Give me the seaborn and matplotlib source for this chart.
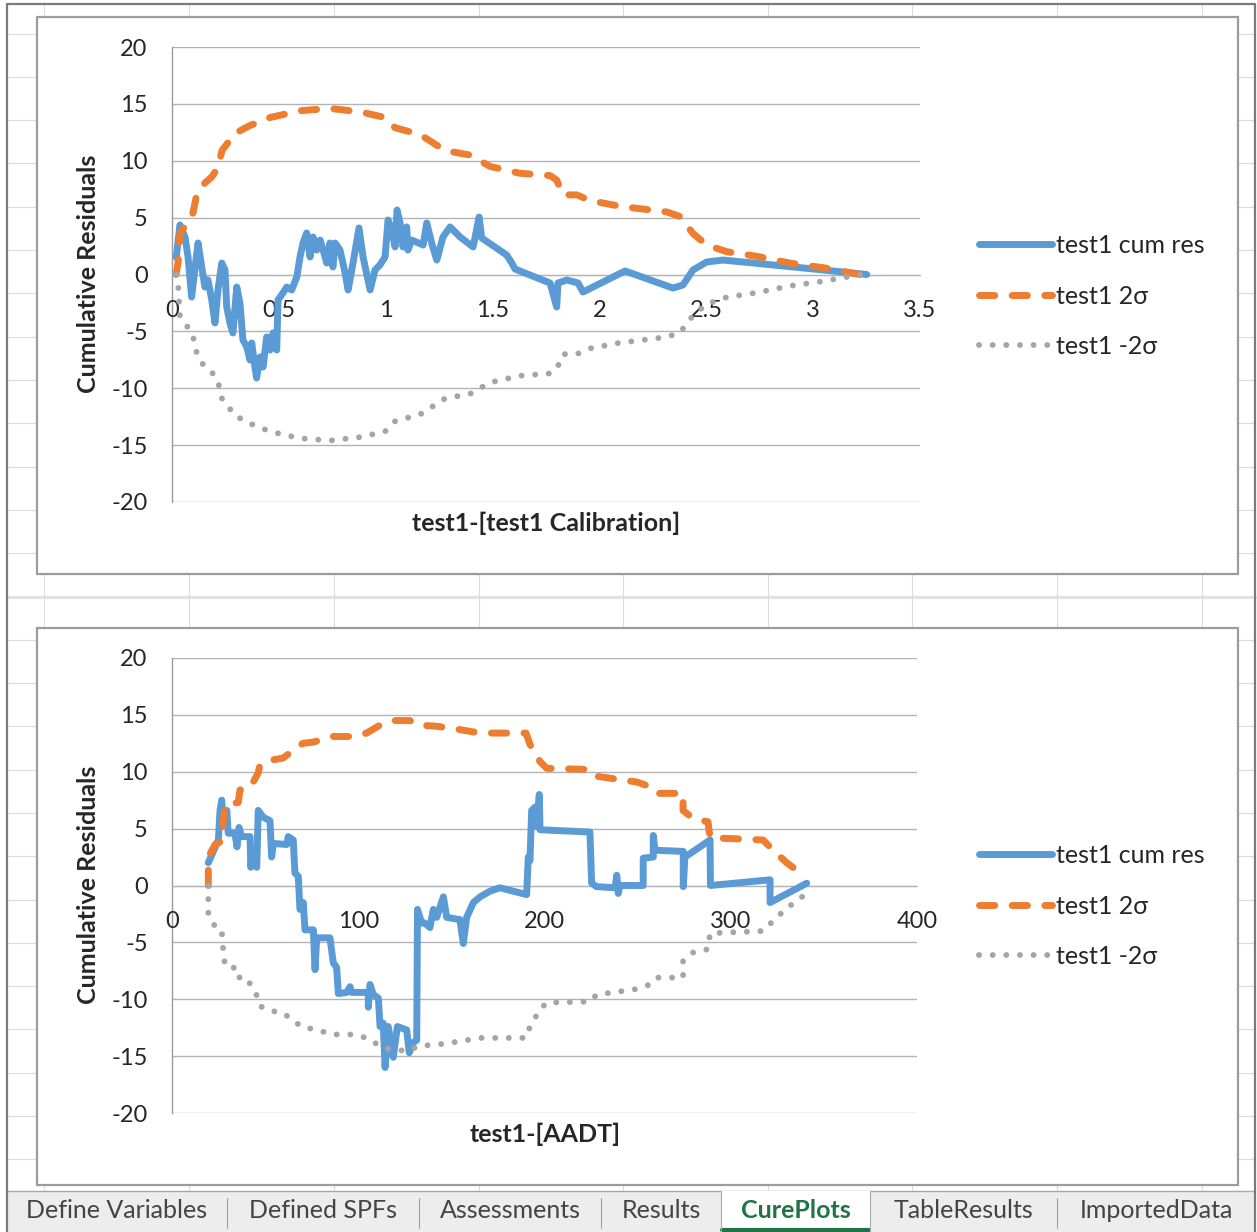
import numpy as np
import matplotlib
matplotlib.use("Agg")
import matplotlib.pyplot as plt
from matplotlib.patches import Rectangle
from matplotlib.ticker import FuncFormatter
import seaborn as sns

# ---------------- data ----------------
# CURE plot vs. calibration prediction
calib_res_x = [0.020, 0.037, 0.061, 0.075, 0.092, 0.108, 0.122, 0.139, 0.154, 0.168,
               0.186, 0.201, 0.215, 0.233, 0.248, 0.256, 0.271, 0.285, 0.303, 0.318,
               0.332, 0.350, 0.365, 0.373, 0.388, 0.396, 0.412, 0.426, 0.443, 0.459,
               0.473, 0.490, 0.496, 0.519, 0.537, 0.560, 0.584, 0.599, 0.613, 0.630,
               0.646, 0.660, 0.677, 0.693, 0.707, 0.724, 0.739, 0.753, 0.763, 0.786,
               0.810, 0.824, 0.847, 0.875, 0.894, 0.927, 0.950, 0.973, 0.997, 1.011,
               1.028, 1.044, 1.053, 1.067, 1.081, 1.098, 1.104, 1.122, 1.175, 1.192,
               1.215, 1.239, 1.268, 1.301, 1.348, 1.409, 1.437, 1.449, 1.566, 1.590,
               1.605, 1.769, 1.800, 1.806, 1.847, 1.900, 1.923, 2.120, 2.344, 2.391,
               2.438, 2.502, 2.578, 2.812, 3.046, 3.251]
calib_res_y = [1.5, 4.35, 3.30, 1.54, -1.98, 0.66, 2.77, 0.66, -1.10, -0.48,
               -2.24, -4.26, -1.36, 1.01, 0.40, -2.86, -4.26, -5.14, -1.10, -2.51,
               -5.76, -6.37, -7.52, -6.02, -8.13, -9.10, -7.25, -8.13, -5.49, -6.64,
               -5.14, -6.64, -2.24, -1.63, -1.10, -1.36, -0.22, 1.54, 2.77, 3.65,
               1.54, 3.30, 2.15, 3.03, 2.15, 1.01, 2.77, 0.66, 2.77, 2.15,
               0.13, -1.36, 1.01, 4.09, 1.54, -1.36, 0.40, 0.84, 1.54, 4.79,
               3.91, 2.42, 5.67, 4.53, 2.42, 4.18, 2.15, 3.03, 2.59, 4.53,
               2.77, 1.27, 3.30, 4.18, 3.30, 2.42, 5.05, 3.21, 1.71, 1.01,
               0.48, -0.75, -2.86, -0.75, -0.48, -0.75, -1.54, 0.31, -1.19, -0.92,
               0.40, 1.10, 1.27, 0.84, 0.40, 0.0]
calib_sig_x = [0.019, 0.029, 0.037, 0.069, 0.098, 0.112, 0.140, 0.187, 0.215, 0.234,
               0.295, 0.365, 0.459, 0.599, 0.739, 0.880, 0.997, 1.044, 1.161, 1.278,
               1.394, 1.488, 1.628, 1.769, 1.800, 1.830, 1.894, 1.956, 2.096, 2.315,
               2.377, 2.438, 2.502, 2.596, 2.736, 2.892, 3.046, 3.219, 3.250]
calib_upper = [0.0, 1.1, 3.6, 4.5, 5.4, 6.7, 7.8, 8.6, 9.4, 10.9,
               12.4, 13.1, 13.8, 14.4, 14.6, 14.3, 13.8, 12.9, 12.3, 10.9,
               10.5, 9.5, 8.9, 8.7, 8.3, 7.0, 7.0, 6.5, 6.0, 5.5,
               5.1, 3.6, 2.6, 2.0, 1.6, 1.0, 0.6, 0.0, 0.0]
calib_lower = [-0.0, -1.1, -3.6, -4.5, -5.4, -6.7, -7.8, -8.6, -9.4, -10.9,
               -12.4, -13.1, -13.8, -14.4, -14.6, -14.3, -13.8, -12.9, -12.3, -10.9,
               -10.5, -9.5, -8.9, -8.7, -8.3, -7.0, -7.0, -6.5, -6.0, -5.5,
               -5.1, -3.6, -2.6, -2.0, -1.6, -1.0, -0.6, -0.0, -0.0]

# CURE plot vs. AADT
aadt_res_x = [19.5, 24.9, 25.8, 26.7, 27.5, 29.4, 30.2, 33.8, 34.9, 36.0,
              37.4, 41.9, 42.3, 43.5, 45.5, 46.3, 49.0, 52.6, 53.5, 54.4,
              61.6, 62.4, 65.1, 66.0, 67.8, 68.7, 70.5, 71.4, 75.9, 76.8,
              77.7, 84.8, 86.6, 88.4, 89.3, 93.8, 95.6, 96.5, 105.4, 105.4,
              106.3, 108.1, 110.8, 111.7, 113.4, 114.4, 116.1, 118.8, 121.0, 126.0,
              127.4, 129.6, 131.4, 131.8, 134.1, 135.8, 138.5, 140.3, 142.1, 145.7,
              147.5, 154.6, 156.4, 158.2, 161.8, 165.4, 170.7, 176.1, 190.4, 191.3,
              192.2, 193.1, 195.0, 195.8, 197.2, 197.6, 224.4, 225.3, 228.0, 237.9,
              238.8, 239.6, 240.5, 253.0, 253.0, 258.4, 258.4, 259.3, 274.5, 274.5,
              275.4, 288.9, 289.1, 321.1, 321.1, 340.8]
aadt_res_y = [2.0, 4.0, 6.6, 7.5, 5.5, 6.6, 4.6, 4.6, 3.4, 5.1,
              4.3, 4.3, 1.6, 3.1, 1.6, 6.6, 6.0, 5.7, 2.5, 3.7,
              3.6, 4.3, 4.0, 1.1, 0.8, -2.1, -1.5, -3.9, -3.9, -7.4,
              -4.6, -4.6, -6.8, -7.2, -9.5, -9.4, -8.9, -9.4, -9.4, -10.7,
              -8.7, -9.6, -9.9, -12.4, -12.1, -16.0, -12.4, -15.1, -12.4, -12.7,
              -14.7, -13.8, -13.6, -2.1, -3.3, -3.3, -3.7, -2.1, -2.8, -1.0,
              -2.8, -3.0, -5.1, -2.8, -1.5, -1.0, -0.5, -0.2, -0.8, 2.5,
              2.2, 6.6, 6.9, 5.2, 8.0, 4.9, 4.7, 0.2, -0.1, -0.2,
              0.9, -0.7, 0.0, 0.0, 2.4, 2.5, 4.4, 3.1, 3.0, -0.1,
              2.5, 4.0, 0.0, 0.5, -1.5, 0.2]
aadt_sig_x = [19.5, 19.5, 23.1, 26.7, 27.4, 28.5, 35.6, 36.5, 41.9, 46.3,
              47.2, 52.6, 59.6, 67.0, 70.3, 75.7, 86.4, 97.2, 104.5, 111.7,
              118.7, 127.8, 132.1, 142.1, 154.6, 165.4, 190.1, 192.2, 197.6, 201.2,
              224.4, 228.0, 249.5, 256.6, 260.2, 274.4, 274.4, 279.7, 287.8, 288.9,
              317.4, 322.8, 330.0, 339.9]
aadt_upper = [0.0, 2.5, 3.6, 3.9, 5.5, 7.1, 7.3, 8.4, 8.6, 9.9,
              10.6, 11.0, 11.2, 12.1, 12.5, 12.6, 13.1, 13.1, 13.4, 14.1,
              14.5, 14.5, 14.1, 14.0, 13.7, 13.4, 13.4, 12.4, 10.9, 10.3,
              10.2, 9.6, 9.1, 8.7, 8.1, 8.1, 6.6, 5.9, 5.6, 4.2,
              4.0, 3.1, 2.0, 0.8]
aadt_lower = [-0.0, -2.5, -3.6, -3.9, -5.5, -7.1, -7.3, -8.4, -8.6, -9.9,
              -10.6, -11.0, -11.2, -12.1, -12.5, -12.6, -13.1, -13.1, -13.4, -14.1,
              -14.5, -14.5, -14.1, -14.0, -13.7, -13.4, -13.4, -12.4, -10.9, -10.3,
              -10.2, -9.6, -9.1, -8.7, -8.1, -8.1, -6.6, -5.9, -5.6, -4.2,
              -4.0, -3.1, -2.0, -0.8]

series_labels = ["test1 cum res", "test1 2σ", "test1 -2σ"]
y_title = "Cumulative Residuals"
x_titles = ["test1-[test1 Calibration]", "test1-[AADT]"]
sheet_tabs = ["Define Variables", "Defined SPFs", "Assessments", "Results",
              "CurePlots", "TableResults", "ImportedData"]
active_tab = "CurePlots"

# ---------------- style ----------------
sns.set_style("white")
plt.rcParams["font.family"] = ["Lato", "DejaVu Sans"]
plt.rcParams["axes.unicode_minus"] = False

W, H = 1257, 1232
BLUE, ORANGE, GREY = "#5B9BD5", "#ED7D31", "#A5A5A5"
GRID = "#b3b3b3"
TXT = "#262626"
LW = 5.0
DASH = (0, (2.2, 2.5))
DOT = (0, (0.01, 2.3))
FS_TICK = 17
FS = 18

fig = plt.figure(figsize=(W / 100, H / 100), dpi=100)

# worksheet background: cell grid, chart frames, sheet tabs
bg = fig.add_axes([0, 0, 1, 1])
bg.set_xlim(0, W)
bg.set_ylim(H, 0)
bg.axis("off")
for k in range(27):
    y = 33.5 + 43.3 * k
    bg.plot([7, W - 2], [y, y], color="#dcdcdc", lw=0.8, zorder=1)
bg.plot([7, W - 2], [596.5, 596.5], color="#e2e2e2", lw=2.2, zorder=1)
for x in [44, 189, 333.5, 478.5, 623, 768, 912, 1057, 1202]:
    bg.plot([x, x], [4, 1191], color="#dcdcdc", lw=0.8, zorder=1)
for y0, y1 in [(17, 574), (628, 1185)]:
    bg.add_patch(Rectangle((37, y0), 1201, y1 - y0, fc="white", ec="#9c9c9c",
                           lw=1.6, zorder=2))

# sheet tab bar
bg.add_patch(Rectangle((7, 1191), W - 9, 45, fc="#ededed", ec="none", zorder=3))
bg.plot([7, W - 2], [1191, 1191], color="#a8a8a8", lw=1.0, zorder=4)
tab_edges = [7, 227, 419, 601, 721, 870, 1057, 1255]
for i, name in enumerate(sheet_tabs):
    a, b = tab_edges[i], tab_edges[i + 1]
    if name == active_tab:
        bg.add_patch(Rectangle((a, 1191), b - a, 45, fc="white", ec="none", zorder=4))
        bg.plot([a + 1, b - 1], [1230, 1230], color="#217346", lw=3, zorder=5)
        bg.plot([a, a], [1191, 1232], color="#a8a8a8", lw=0.8, zorder=5)
        bg.plot([b, b], [1191, 1232], color="#a8a8a8", lw=0.8, zorder=5)
        bg.text((a + b) / 2, 1211, name, ha="center", va="center", fontsize=FS,
                fontweight="bold", color="#217346", zorder=6)
    else:
        bg.text((a + b) / 2, 1211, name, ha="center", va="center", fontsize=FS,
                color="#444444", zorder=6)
for x in [227, 419, 601, 1057]:
    bg.plot([x, x], [1198, 1228], color="#a0a0a0", lw=0.8, zorder=5)
# outer window border
bg.plot([7, 7, W - 2, W - 2], [H, 4, 4, H], color="#7a7a7a", lw=1.6, zorder=7)


def px_axes(x0, y0, x1, y1):
    return fig.add_axes([x0 / W, 1 - y1 / H, (x1 - x0) / W, (y1 - y0) / H])


def draw_cure(ax, rx, ry, sx, up, lo, xmax, xstep):
    sns.lineplot(x=rx, y=ry, ax=ax, sort=False, estimator=None, color=BLUE, lw=LW,
                 solid_capstyle="round", solid_joinstyle="round",
                 label=series_labels[0], legend=False, zorder=3)
    sns.lineplot(x=sx, y=up, ax=ax, sort=False, estimator=None, color=ORANGE, lw=LW,
                 linestyle=DASH, dash_capstyle="round", dash_joinstyle="round",
                 label=series_labels[1], legend=False, zorder=4)
    sns.lineplot(x=sx, y=lo, ax=ax, sort=False, estimator=None, color=GREY, lw=LW * 0.85,
                 linestyle=DOT, dash_capstyle="round",
                 label=series_labels[2], legend=False, zorder=5)
    ax.set_xlim(0, xmax)
    ax.set_ylim(-20, 20)
    ax.patch.set_alpha(0)
    for v in range(-20, 21, 5):
        ax.axhline(v, color=GRID, lw=1.0, zorder=1)
    ax.spines[["top", "right"]].set_visible(False)
    ax.spines["bottom"].set_position(("data", 0))
    ax.spines["bottom"].set_color(GRID)
    ax.spines["left"].set_color("#9a9a9a")
    ax.spines["left"].set_linewidth(1.0)
    ax.set_xticks(np.arange(0, xmax + 1e-9, xstep))
    ax.set_yticks(range(-20, 21, 5))
    ax.xaxis.set_major_formatter(FuncFormatter(lambda v, p: f"{v:g}"))
    ax.tick_params(axis="y", length=6.5, width=1, color=GRID, pad=11, labelsize=FS_TICK,
                   labelcolor=TXT)
    ax.tick_params(axis="x", length=3.6, width=1, color=GRID, pad=15, labelsize=FS_TICK,
                   labelcolor=TXT)
    ax.set_axisbelow(False)
    ax.set_xlabel("")
    ax.set_ylabel("")


def add_legend(ax, cy):
    handles, labels = ax.get_legend_handles_labels()
    fig.legend(handles, labels, loc="center left", bbox_to_anchor=(979 / W, 1 - cy / H),
               frameon=False, fontsize=FS, handlelength=2.9, handletextpad=0.2,
               labelspacing=1.1, borderpad=0, borderaxespad=0, labelcolor=TXT)


ax1 = px_axes(172, 47, 920, 502)
draw_cure(ax1, calib_res_x, calib_res_y, calib_sig_x, calib_upper, calib_lower, 3.5, 0.5)
add_legend(ax1, 296)
fig.text(88 / W, 1 - 274 / H, y_title, rotation=90, ha="center", va="center",
         fontsize=FS, fontweight="bold", color=TXT)
fig.text(546 / W, 1 - 523 / H, x_titles[0], ha="center", va="center",
         fontsize=FS, fontweight="bold", color=TXT)

ax2 = px_axes(172, 658, 917, 1113)
draw_cure(ax2, aadt_res_x, aadt_res_y, aadt_sig_x, aadt_upper, aadt_lower, 400, 100)
add_legend(ax2, 906)
fig.text(88 / W, 1 - 885 / H, y_title, rotation=90, ha="center", va="center",
         fontsize=FS, fontweight="bold", color=TXT)
fig.text(545 / W, 1 - 1134 / H, x_titles[1], ha="center", va="center",
         fontsize=FS, fontweight="bold", color=TXT)

fig.savefig("out.png", dpi=100)
